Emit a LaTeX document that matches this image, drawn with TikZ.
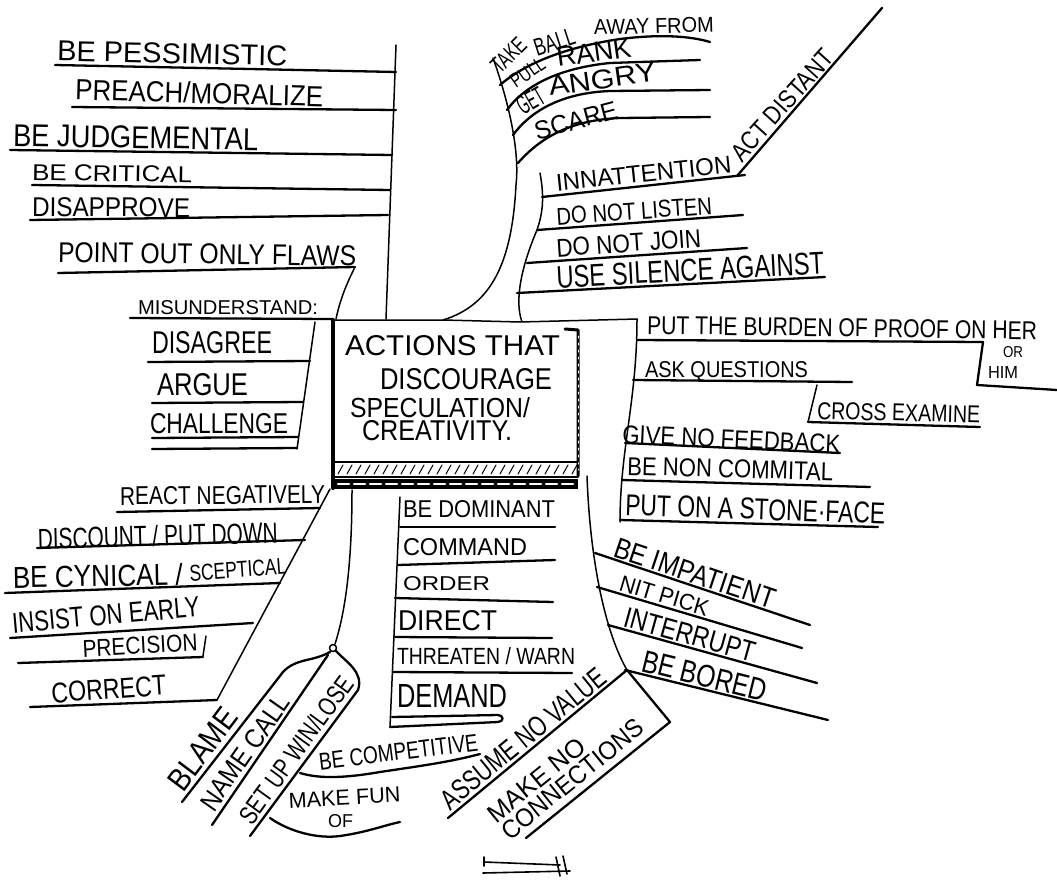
\documentclass[tikz,border=0pt]{standalone}
\usepackage{fontspec}
\setmainfont{Liberation Sans}
\usepackage{graphicx}
\newcommand\handtxt[3]{\resizebox{#1pt}{#2pt}{#3}}
\begin{document}
\begin{tikzpicture}[x=1pt,y=-1pt,line cap=round,line join=round]
\tikzset{
  ul/.style={line width=2.3pt},
  st/.style={line width=1.5pt},
  lbl/.style={anchor=base west,inner sep=0pt,outer sep=0pt}
}
\useasboundingbox (0,0) rectangle (1057,880);
\fill[white] (0,0) rectangle (1057,880);

% ---------------- central box ----------------
\draw[line width=4pt] (333,320) -- (333,488);
\draw[line width=3pt] (565,329) -- (578,330) -- (578,476);
\draw[white,line width=1pt,dash pattern=on 2pt off 5pt] (578,336) -- (578,470);
\draw[st] (333,462) -- (578,462);
\draw[st] (333,477) -- (578,477);
\foreach \x in {338,347,...,572} \draw[line width=1pt] (\x,474) -- (\x+5,465);
\fill (333,479) rectangle (578,489);
\draw[white,line width=2.5pt,dash pattern=on 11pt off 5pt] (338,484) -- (573,484);
\node[lbl] (b1) at (345,355) {\handtxt{215}{20}{ACTIONS THAT}};
\node[lbl] (b2) at (380,389) {\handtxt{172}{21}{DISCOURAGE}};
\node[lbl] (b3) at (350,417) {\handtxt{180}{20}{SPECULATION/}};
\node[lbl] (b4) at (362,440) {\handtxt{150}{20}{CREATIVITY.}};

% top connector line over the box
\draw[st] (333,320) -- (443,320) -- (520,322) -- (637,319);

% ---------------- top-left group ----------------
\draw[st] (396,45) -- (386,319);
\draw[ul] (55,65) -- (396,72);
\draw[ul] (72,107) -- (396,110);
\draw[ul] (10,150) -- (392,155);
\draw[ul] (32,185) -- (390,190);
\draw[ul] (30,220) -- (388,215);
\draw[ul] (58,273) -- (355,267);
\draw[st] (355,267) .. controls (346,285) and (340,300) .. (336,319);
\draw[ul] (130,318) -- (333,319);
\node[lbl,rotate=-1.2] (t1) at (57,61) {\handtxt{230}{20}{BE PESSIMISTIC}};
\node[lbl,rotate=-1.5] (t2) at (75,100) {\handtxt{248}{21}{PREACH/MORALIZE}};
\node[lbl,rotate=-1] (t3) at (13,146) {\handtxt{245}{22}{BE JUDGEMENTAL}};
\node[lbl,rotate=-1] (t4) at (32,180) {\handtxt{160}{16}{BE CRITICAL}};
\node[lbl,rotate=-0.5] (t5) at (32,216) {\handtxt{158}{19}{DISAPPROVE}};
\node[lbl,rotate=-0.8] (t6) at (58,262) {\handtxt{298}{20}{POINT OUT ONLY FLAWS}};
\node[lbl] (t7) at (138,314) {\handtxt{180}{14}{MISUNDERSTAND:}};

% ---------------- left middle group ----------------
\draw[st] (315,322) -- (297,449);
\draw[ul] (148,362) -- (310,361);
\draw[ul] (152,403) -- (303,402);
\draw[ul] (152,438) -- (298,437);
\draw[ul] (152,449) -- (297,448);
\node[lbl] (t8) at (152,353) {\handtxt{120}{22}{DISAGREE}};
\node[lbl] (t9) at (157,395) {\handtxt{91}{22}{ARGUE}};
\node[lbl] (t10) at (150,433) {\handtxt{138}{20}{CHALLENGE}};

% ---------------- top-right group ----------------
\draw[st] (493,58) .. controls (508,100) and (520,150) .. (516,185)
          .. controls (512,262) and (492,305) .. (443,320);
\draw[ul] (500,85) .. controls (522,66) and (560,48) .. (620,39)
          .. controls (660,34) and (690,36) .. (710,42);
\draw[ul] (507,110) .. controls (525,85) and (560,68) .. (610,63) -- (700,60);
\draw[ul] (513,135) .. controls (530,112) and (560,93) .. (610,91) -- (710,90);
\draw[ul] (518,163) .. controls (540,138) and (570,120) .. (620,118) -- (710,117);
\node[lbl,rotate=45] (k1) at (500,75) {\handtxt{40}{16}{TAKE}};
\node[lbl,rotate=18] (k2) at (537,57) {\handtxt{42}{17}{BALL}};
\node[lbl,rotate=1.5] (k3) at (594,35) {\handtxt{120}{15}{AWAY FROM}};
\node[lbl,rotate=35] (k4) at (516,89) {\handtxt{38}{14}{PULL}};
\node[lbl,rotate=8] (k5) at (558,67) {\handtxt{75}{19}{RANK}};
\node[lbl,rotate=30] (k6) at (523,116) {\handtxt{28}{19}{GET}};
\node[lbl,rotate=8] (k7) at (550,96) {\handtxt{108}{19}{ANGRY}};
\node[lbl,rotate=15] (k8) at (537,140) {\handtxt{85}{18}{SCARE}};

% lower part of top-right group
\draw[st] (540,173) .. controls (545,200) and (542,215) .. (537,230)
          .. controls (522,265) and (514,300) .. (522,322);
\draw[ul] (542,197) -- (745,175);
\draw[ul] (737,176) -- (882,8);
\draw[ul] (537,230) -- (743,215);
\draw[ul] (527,263) -- (747,248);
\draw[ul] (517,293) -- (825,277);
\node[lbl,rotate=6] (k9) at (557,191) {\handtxt{176}{17}{INNATTENTION}};
\node[lbl,rotate=48] (k10) at (742,163) {\handtxt{140}{18}{ACT DISTANT}};
\node[lbl,rotate=4] (k11) at (557,225) {\handtxt{156}{17}{DO NOT LISTEN}};
\node[lbl,rotate=4] (k12) at (557,257) {\handtxt{145}{18}{DO NOT JOIN}};
\node[lbl,rotate=3] (k13) at (557,288) {\handtxt{268}{22}{USE SILENCE AGAINST}};

% ---------------- right middle group ----------------
\draw[st] (637,319) .. controls (637,400) and (620,450) .. (620,522);
\draw[ul] (637,340) -- (983,342) -- (977,385) -- (1057,390);
\draw[ul] (633,380) -- (852,382);
\draw[st] (817,385) -- (808,422);
\draw[ul] (808,422) -- (980,427);
\draw[ul] (625,443) -- (840,453);
\draw[ul] (622,480) -- (870,487);
\draw[ul] (620,520) -- (878,527);
\node[lbl,rotate=-0.8] (m1) at (647,334) {\handtxt{390}{18}{PUT THE BURDEN OF PROOF ON HER}};
\node[lbl] (m2) at (1003,357) {\handtxt{20}{11}{OR}};
\node[lbl] (m3) at (988,378) {\handtxt{30}{12}{HIM}};
\node[lbl] (m4) at (645,377) {\handtxt{163}{16}{ASK QUESTIONS}};
\node[lbl,rotate=-1.5] (m5) at (817,419) {\handtxt{163}{17}{CROSS EXAMINE}};
\node[lbl,rotate=-2.6] (m6) at (622,443) {\handtxt{218}{18}{GIVE NO FEEDBACK}};
\node[lbl,rotate=-1.6] (m7) at (627,475) {\handtxt{206}{18}{BE NON COMMITAL}};
\node[lbl,rotate=-2] (m8) at (625,515) {\handtxt{260}{21}{PUT ON A STONE·FACE}};

% ---------------- lower-left group ----------------
\draw[st] (330,489) -- (217,700);
\draw[ul] (117,512) -- (320,508);
\draw[ul] (37,548) -- (305,540);
\draw[ul] (5,593) -- (280,583);
\draw[ul] (10,638) -- (253,623);
\draw[ul] (18,663) -- (203,657);
\draw[st] (206,636) -- (203,656);
\draw[ul] (30,707) -- (217,700);
\node[lbl,rotate=0.5] (t11) at (120,505) {\handtxt{205}{18}{REACT NEGATIVELY}};
\node[lbl,rotate=1.5] (t12) at (38,549) {\handtxt{240}{21}{DISCOUNT / PUT DOWN}};
\node[lbl,rotate=1] (t13) at (13,588) {\handtxt{170}{22}{BE CYNICAL /}};
\node[lbl,rotate=4] (t13b) at (190,581) {\handtxt{97}{16}{SCEPTICAL}};
\node[lbl,rotate=5] (t14) at (13,633) {\handtxt{188}{20}{INSIST ON EARLY}};
\node[lbl,rotate=3] (t15) at (83,657) {\handtxt{115}{17}{PRECISION}};
\node[lbl,rotate=4] (t16) at (52,703) {\handtxt{115}{20}{CORRECT}};

% ---------------- bottom-left fan ----------------
\draw[st] (352,490) .. controls (352,560) and (346,610) .. (335,644);
\draw[st] (333,648) circle (3.5);
\draw[ul] (330,652) .. controls (312,662) and (296,658) .. (283,672) -- (182,802);
\draw[ul] (328,655) -- (212,825);
\draw[ul] (336,651) .. controls (346,662) and (364,672) .. (358,690) -- (250,836);
\draw[ul] (300,773) .. controls (320,779) and (345,778) .. (380,772)
          .. controls (420,766) and (450,762) .. (480,754);
\draw[ul] (270,818) .. controls (290,832) and (318,839) .. (340,836)
          .. controls (368,832) and (385,825) .. (400,822);
\node[lbl,rotate=53] (t17) at (183,793) {\handtxt{94}{22}{BLAME}};
\node[lbl,rotate=55] (t18) at (214,813) {\handtxt{135}{19}{NAME CALL}};
\node[lbl,rotate=54] (t19) at (252,826) {\handtxt{175}{19}{SET UP WIN/LOSE}};
\node[lbl,rotate=7] (t20) at (320,770) {\handtxt{160}{17}{BE COMPETITIVE}};
\node[lbl,rotate=3] (t21) at (289,808) {\handtxt{112}{15}{MAKE FUN}};
\node[lbl] (t22) at (328,827) {\handtxt{25}{13}{OF}};

% ---------------- bottom-centre group ----------------
\draw[st] (400,497) -- (390,727);
\draw[ul] (400,527) -- (555,527);
\draw[ul] (398,565) -- (555,560);
\draw[ul] (395,598) -- (553,602);
\draw[ul] (395,637) -- (552,638);
\draw[ul] (393,672) -- (572,673);
\draw[ul] (392,717) -- (498,715) .. controls (504,715) and (504,722) .. (498,722) -- (390,727);
\node[lbl] (c1) at (403,517) {\handtxt{152}{17}{BE DOMINANT}};
\node[lbl] (c2) at (403,555) {\handtxt{124}{17}{COMMAND}};
\node[lbl] (c3) at (403,590) {\handtxt{87}{14}{ORDER}};
\node[lbl] (c4) at (398,630) {\handtxt{99}{20}{DIRECT}};
\node[lbl] (c5) at (397,664) {\handtxt{178}{17}{THREATEN / WARN}};
\node[lbl] (c6) at (397,707) {\handtxt{110}{23}{DEMAND}};

% ---------------- lower-right group ----------------
\draw[st] (587,476) .. controls (590,560) and (605,632) .. (627,670);
\draw[ul] (595,553) -- (810,625);
\draw[ul] (597,587) -- (802,648);
\draw[ul] (608,625) -- (817,683);
\draw[ul] (625,670) -- (828,720);
\draw[ul] (627,670) -- (448,818);
\draw[ul] (627,670) -- (670,722) -- (526,838);
\node[lbl,rotate=-18.5] (r1) at (612,556) {\handtxt{168}{20}{BE IMPATIENT}};
\node[lbl,rotate=-16.6] (r2) at (618,590) {\handtxt{92}{16}{NIT PICK}};
\node[lbl,rotate=-15.5] (r3) at (622,626) {\handtxt{135}{20}{INTERRUPT}};
\node[lbl,rotate=-13.8] (r4) at (640,671) {\handtxt{128}{22}{BE BORED}};
\node[lbl,rotate=39.3] (r5) at (450,811) {\handtxt{205}{20}{ASSUME NO VALUE}};
\node[lbl,rotate=39] (r6) at (496,824) {\handtxt{118}{18}{MAKE NO}};
\node[lbl,rotate=39] (r7) at (510,841) {\handtxt{175}{18}{CONNECTIONS}};

% ---------------- mark at the bottom ----------------
\draw[line width=1.6pt] (484,857) -- (484,866);
\draw[line width=1.6pt] (484,862) -- (560,865);
\draw[line width=1.6pt] (483,873) -- (570,871);
\draw[line width=1.6pt] (556,857) -- (560,876);
\draw[line width=1.6pt] (563,856) -- (567,874);
\end{tikzpicture}
\end{document}
